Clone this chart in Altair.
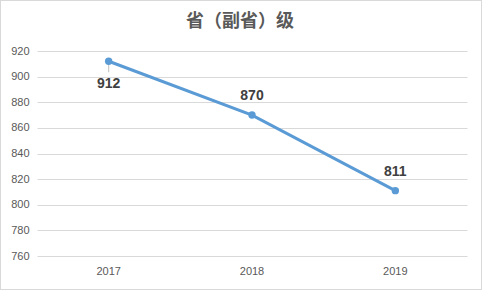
import altair as alt
import pandas as pd

years = ["2017", "2018", "2019"]
values = [912, 870, 811]
title_text = "省（副省）级"

df = pd.DataFrame({"year": years, "value": values})

W, H = 430, 205
PL, PT, PR, PB = 37, 51, 15, 34

base = alt.Chart(df).encode(
    x=alt.X("year:N", sort=years, scale=alt.Scale(paddingInner=0, paddingOuter=0),
            axis=alt.Axis(title=None, labelAngle=0, ticks=False, domain=False, grid=False,
                          labelPadding=9, labelFontSize=11, labelColor="#595959",
                          labelFont="Liberation Sans")),
    y=alt.Y("value:Q", scale=alt.Scale(domain=[760, 920], nice=False, zero=False),
            axis=alt.Axis(title=None, values=list(range(760, 921, 20)), ticks=False, domain=False,
                          gridColor="#D9D9D9", gridWidth=1, labelPadding=8, labelFontSize=11,
                          labelColor="#595959", labelFont="Liberation Sans")),
)

line = base.mark_line(color="#5B9BD5", strokeWidth=3)
pts = base.mark_circle(color="#5B9BD5", size=55, opacity=1)

lbl_below = base.transform_filter(alt.datum.year == "2017").mark_text(
    dy=23, fontSize=14, fontWeight="bold", color="#404040", font="Liberation Sans"
).encode(text="value:Q")
lbl_above = base.transform_filter(alt.datum.year != "2017").mark_text(
    dy=-19, fontSize=14, fontWeight="bold", color="#404040", font="Liberation Sans"
).encode(text="value:Q")

leader = base.transform_filter(alt.datum.year == "2017").mark_tick(
    color="#A6A6A6", orient="vertical", size=8, thickness=1, yOffset=7
)

border = alt.Chart(df).mark_rect(fill=None, stroke="#D9D9D9", strokeWidth=1).encode(
    x=alt.value(-PL + 0.5), x2=alt.value(W + PR - 0.5),
    y=alt.value(-PT + 0.5), y2=alt.value(H + PB - 0.5)
)

title = alt.Chart(pd.DataFrame({"t": [title_text]})).mark_text(
    fontSize=18, fontWeight="bold", color="#595959", font="Noto Sans CJK SC",
    align="center", baseline="middle"
).encode(x=alt.value(W / 2 - 12), y=alt.value(-29), text="t:N")

chart = alt.layer(border, leader, line, pts, lbl_below, lbl_above, title).properties(
    width=W, height=H,
    autosize=alt.AutoSizeParams(type="none"),
    padding={"left": PL, "top": PT, "right": PR, "bottom": PB},
).configure(background="white", view=alt.ViewConfig(stroke=None))

chart.save("out.html", embed_options={"renderer": "svg", "actions": False})
